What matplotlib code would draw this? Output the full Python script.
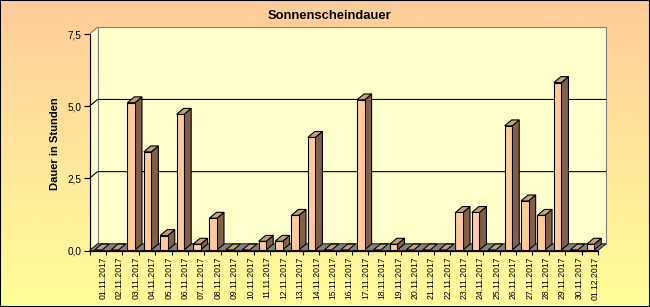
import numpy as np
import matplotlib.pyplot as plt
from matplotlib.patches import Polygon, Rectangle
from matplotlib.colors import LinearSegmentedColormap
from matplotlib.transforms import ScaledTranslation

plt.rcParams['font.family'] = ['Liberation Sans', 'DejaVu Sans']

days = ['01.11.2017', '02.11.2017', '03.11.2017', '04.11.2017', '05.11.2017',
        '06.11.2017', '07.11.2017', '08.11.2017', '09.11.2017', '10.11.2017',
        '11.11.2017', '12.11.2017', '13.11.2017', '14.11.2017', '15.11.2017',
        '16.11.2017', '17.11.2017', '18.11.2017', '19.11.2017', '20.11.2017',
        '21.11.2017', '22.11.2017', '23.11.2017', '24.11.2017', '25.11.2017',
        '26.11.2017', '27.11.2017', '28.11.2017', '29.11.2017', '30.11.2017',
        '01.12.2017']
sunshine = [0.0, 0.0, 5.1, 3.4, 0.5, 4.7, 0.2, 1.1, 0.0, 0.0,
            0.3, 0.3, 1.2, 3.9, 0.0, 0.0, 5.2, 0.0, 0.2, 0.0,
            0.0, 0.0, 1.3, 1.3, 0.0, 4.3, 1.7, 1.2, 5.8, 0.0,
            0.2]
yticks = [0.0, 2.5, 5.0, 7.5]

FRONT = '#FFCC99'
SIDE = '#806048'
TOP = '#C0A080'
WALL = '#FFFFCC'

fig = plt.figure(figsize=(6.5, 3.07), dpi=100)

# background gradient (peach on top, yellow at the bottom)
bg = fig.add_axes([0, 0, 1, 1])
grad = np.linspace(0, 1, 256).reshape(-1, 1)
cmap = LinearSegmentedColormap.from_list('bg', ['#FFCC99', '#FFE699', '#FFFF99'])
bg.imshow(grad, aspect='auto', cmap=cmap, extent=[0, 1, 0, 1], origin='upper')
bg.set_axis_off()

ax = fig.add_axes([89.5 / 650, 1 - 250.5 / 307, 508.5 / 650, (250.5 - 34) / 307])
ax.patch.set_visible(False)
n = len(sunshine)
xmin, xmax = -0.5, n - 0.5
ymax = 7.5
ax.set_xlim(xmin, xmax)
ax.set_ylim(0, ymax)

# depth of the 3d box in data units
DX = 8 / (508.5 / n)
DY = 6.7 / (216.5 / ymax)

# back wall and left wall
ax.add_patch(Rectangle((xmin + DX, DY), xmax - xmin, ymax, facecolor=WALL,
                       edgecolor='#808080', lw=0.8, clip_on=False, zorder=1))
ax.add_patch(Polygon([(xmin, 0), (xmin + DX, DY), (xmin + DX, ymax + DY), (xmin, ymax)],
                     closed=True, facecolor=WALL, edgecolor='none', clip_on=False, zorder=1))
ax.plot([xmin, xmin + DX], [ymax, ymax + DY], color='#808080', lw=0.8, clip_on=False, zorder=2)

for yv in yticks[1:-1]:
    ax.plot([xmin, xmin + DX, xmax + DX], [yv, yv + DY, yv + DY], color='black',
            lw=0.8, clip_on=False, zorder=2)

# floor
ax.add_patch(Polygon([(xmin, 0), (xmax, 0), (xmax + DX, DY), (xmin + DX, DY)], closed=True,
                     facecolor='#808080', edgecolor='black', lw=0.6, clip_on=False, zorder=3))

# bars
W = 0.46
f0 = 0.08
bdx, bdy = 0.88 * DX, 0.88 * DY
x = np.arange(n)
ax.bar(x + f0 * DX, sunshine, width=W, bottom=f0 * DY, color=FRONT, edgecolor='black',
       lw=0.8, zorder=5, clip_on=False)
for i, v in enumerate(sunshine):
    x0 = i - W / 2 + f0 * DX
    y0 = f0 * DY
    if v > 0:
        ax.add_patch(Polygon([(x0 + W, y0), (x0 + W + bdx, y0 + bdy),
                              (x0 + W + bdx, y0 + v + bdy), (x0 + W, y0 + v)],
                             closed=True, facecolor=SIDE, edgecolor='black', lw=0.8,
                             zorder=4, clip_on=False))
    ax.add_patch(Polygon([(x0, y0 + v), (x0 + W, y0 + v), (x0 + W + bdx, y0 + v + bdy),
                          (x0 + bdx, y0 + v + bdy)],
                         closed=True, facecolor=TOP, edgecolor='black', lw=0.8,
                         zorder=6, clip_on=False))

# axes and ticks
for s in ['top', 'right']:
    ax.spines[s].set_visible(False)
ax.spines['left'].set_linewidth(0.9)
ax.spines['bottom'].set_linewidth(0.9)
ax.spines['left'].set_zorder(7)
ax.spines['bottom'].set_zorder(7)

ax.set_yticks(yticks)
ax.set_yticklabels([('%.1f' % t).replace('.', ',') for t in yticks], fontsize=7.2)
ax.tick_params(axis='y', length=4, width=0.8, pad=1.5)

ax.set_xticks(x)
ax.set_xticklabels(days, rotation=90, fontsize=6.2)
ax.set_xticks(np.arange(n + 1) - 0.5, minor=True)
ax.tick_params(axis='x', which='major', length=0, pad=4.5)
ax.tick_params(axis='x', which='minor', length=3, width=0.8)
shift = ScaledTranslation(0.055, 0, fig.dpi_scale_trans)
for lbl in ax.get_xticklabels():
    lbl.set_transform(lbl.get_transform() + shift)

fig.text(55 / 650, 1 - 144 / 307, 'Dauer in Stunden', rotation=90, fontsize=8,
         fontweight='bold', ha='center', va='center')
fig.text(330 / 650, 1 - 16 / 307, 'Sonnenscheindauer', fontsize=9.4,
         fontweight='bold', ha='center', va='center')

fig.patches.append(Rectangle((0, 0), 1, 1, transform=fig.transFigure, fill=False,
                             edgecolor='black', lw=1.5, figure=fig))

fig.savefig('out.png', dpi=100)
